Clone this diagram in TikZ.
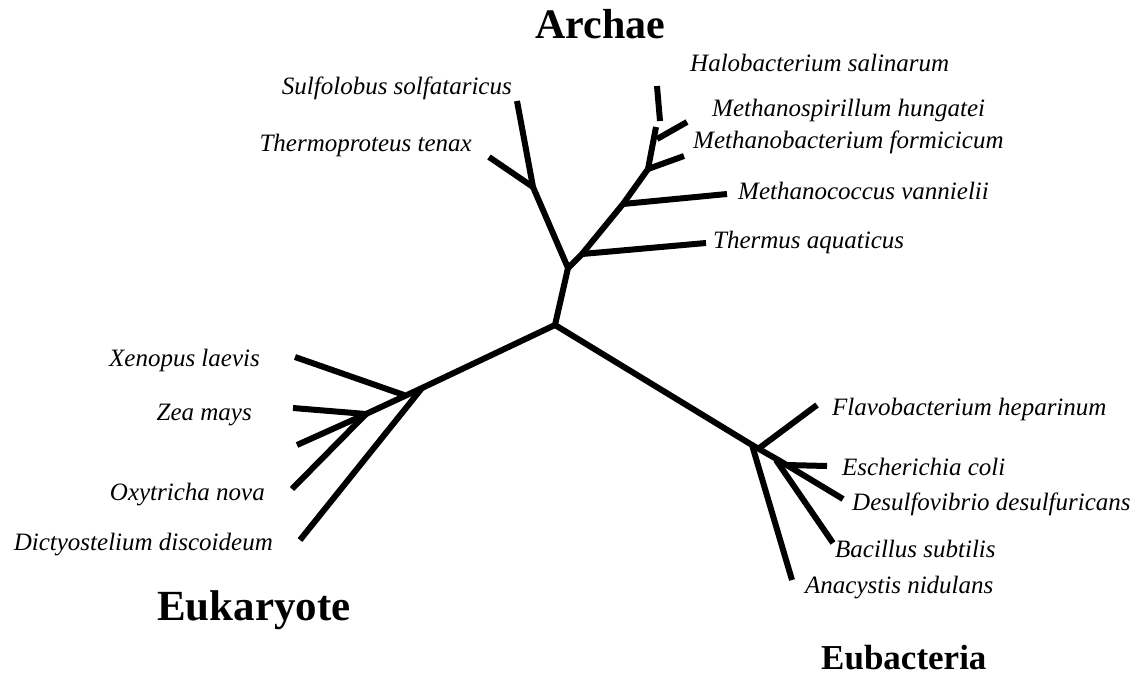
\documentclass[tikz,border=0pt]{standalone}
\usepackage{fontspec}
\setmainfont{Liberation Serif}
\begin{document}
\begin{tikzpicture}[x=1pt,y=-1pt,
  branch/.style={line width=6pt,line cap=butt,line join=miter},
  sp/.style={inner sep=0pt,font=\fontsize{25}{30}\selectfont\itshape},
  spl/.style={sp,anchor=base west},
  spr/.style={sp,anchor=base east},
  grp/.style={inner sep=0pt,anchor=base west,font=\bfseries}]
\useasboundingbox (0,0) rectangle (1145,676);
% tree points
\coordinate (R) at (555,325);
\coordinate (A1) at (568,268);
\coordinate (A2) at (533,187);
\coordinate (tSul) at (517,101);
\coordinate (tThp) at (489,157);
\coordinate (A1b) at (582,254);
\coordinate (tThe) at (706,243);
\coordinate (A3) at (623,204);
\coordinate (tMco) at (727,194);
\coordinate (A4) at (648,169);
\coordinate (tMbf) at (684,156);
\coordinate (A5) at (656,127);
\coordinate (A5b) at (657,139);
\coordinate (tMsp) at (687,122);
\coordinate (H0) at (660,121);
\coordinate (tHal) at (657,86);
\coordinate (E0) at (422,388);
\coordinate (E0x) at (404,395);
\coordinate (E1) at (366,414);
\coordinate (tXen) at (295,357);
\coordinate (tZea) at (293,408);
\coordinate (tUnk) at (297,445);
\coordinate (tOxy) at (292,489);
\coordinate (tDic) at (300,540);
\coordinate (B0) at (752,445);
\coordinate (B0f) at (758,449);
\coordinate (tFla) at (817,405);
\coordinate (tAna) at (792,580);
\coordinate (B1) at (780,461);
\coordinate (B1e) at (786,465);
\coordinate (tEsc) at (827,466);
\coordinate (tDes) at (843,499);
\coordinate (B1b) at (776,460);
\coordinate (tBac) at (833,543);
% branches
\draw[branch] (R) -- (A1) -- (A2) -- (tSul);
\draw[branch] (A2) -- (tThp);
\draw[branch] (A1) -- (A1b) -- (A3) -- (A4) -- (A5);
\draw[branch] (A1b) -- (tThe);
\draw[branch] (A3) -- (tMco);
\draw[branch] (A4) -- (tMbf);
\draw[branch] (A5b) -- (tMsp);
\draw[branch] (H0) -- (tHal);
\draw[branch] (R) -- (E0) -- (E1) -- (tZea);
\draw[branch] (E0) -- (tDic);
\draw[branch] (E0x) -- (tXen);
\draw[branch] (E1) -- (tUnk);
\draw[branch] (E1) -- (tOxy);
\draw[branch] (R) -- (B0) -- (tAna);
\draw[branch] (B0f) -- (tFla);
\draw[branch] (B0) -- (B1) -- (tDes);
\draw[branch] (B1e) -- (tEsc);
\draw[branch] (B1b) -- (tBac);
% group titles
\node[grp,font=\fontsize{42}{48}\selectfont\bfseries] (arch) at (535,39) {Archae};
\node[grp,font=\fontsize{43}{50}\selectfont\bfseries] (euk) at (157,620) {Eukaryote};
\node[grp,font=\fontsize{35}{42}\selectfont\bfseries] (eub) at (821,669) {Eubacteria};
% species labels
\node[spl] (lHal) at (690,72) {Halobacterium salinarum};
\node[spl] (lMsp) at (712,117) {Methanospirillum hungatei};
\node[spl] (lMbf) at (693,149) {Methanobacterium formicicum};
\node[spl] (lMco) at (738,200) {Methanococcus vannielii};
\node[spl] (lThe) at (713,249) {Thermus aquaticus};
\node[spr] (lSul) at (512,95) {Sulfolobus solfataricus};
\node[spr] (lThp) at (472,152) {Thermoproteus tenax};
\node[spr] (lXen) at (260,366) {Xenopus laevis};
\node[spr] (lZea) at (252,420) {Zea mays};
\node[spr] (lOxy) at (265,500) {Oxytricha nova};
\node[spr] (lDic) at (273,550) {Dictyostelium discoideum};
\node[spl] (lFla) at (832,415) {Flavobacterium heparinum};
\node[spl] (lEsc) at (842,475) {Escherichia coli};
\node[spl] (lDes) at (852,510) {Desulfovibrio desulfuricans};
\node[spl] (lBac) at (835,557) {Bacillus subtilis};
\node[spl] (lAna) at (805,593) {Anacystis nidulans};
\end{tikzpicture}
\end{document}
